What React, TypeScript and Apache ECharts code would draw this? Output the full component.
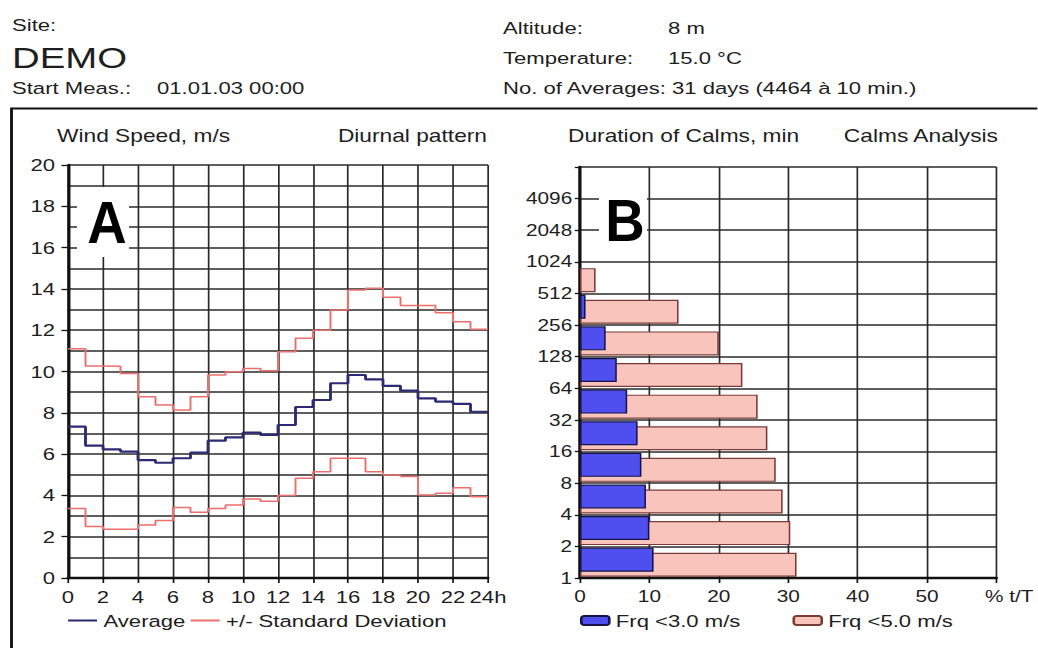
import React, { useEffect, useRef } from 'react';
import * as echarts from 'echarts';

// ---------- data ----------
const hours = [0, 1, 2, 3, 4, 5, 6, 7, 8, 9, 10, 11, 12, 13, 14, 15, 16, 17, 18, 19, 20, 21, 22, 23];
const avgSpeed = [7.33, 6.41, 6.23, 6.12, 5.71, 5.58, 5.8, 6.07, 6.65, 6.81, 7.04, 6.93, 7.41, 8.28, 8.62, 9.43, 9.83, 9.62, 9.3, 9.07, 8.7, 8.54, 8.43, 8.05];
const upperSD = [11.1, 10.27, 10.25, 9.9, 8.78, 8.38, 8.14, 8.78, 9.83, 9.99, 10.15, 10.04, 10.96, 11.61, 12.0, 12.98, 13.95, 14.03, 13.6, 13.2, 13.2, 12.85, 12.41, 12.04];
const lowerSD = [3.37, 2.49, 2.36, 2.36, 2.57, 2.78, 3.42, 3.18, 3.37, 3.53, 3.82, 3.72, 3.99, 4.83, 5.15, 5.8, 5.8, 5.15, 4.99, 4.91, 4.02, 4.1, 4.37, 3.94];

const durationBands = ['1-2', '2-4', '4-8', '8-16', '16-32', '32-64', '64-128', '128-256', '256-512', '512-1024', '1024-2048', '2048-4096', '4096-8192'];
const durationLabels = ['1', '2', '4', '8', '16', '32', '64', '128', '256', '512', '1024', '2048', '4096'];
const calmsBelow3 = [10.6, 10.0, 9.5, 8.85, 8.3, 6.8, 5.3, 3.7, 0.8, 0, 0, 0, 0];
const calmsBelow5 = [31.2, 30.3, 29.2, 28.2, 27.0, 25.6, 23.4, 20.0, 14.2, 2.25, 0, 0, 0];

// ---------- layout ----------
const S = 1.3; // horizontal stretch of the reference
const W = 1038 / S;
const px = (x: number) => x / S;
const FONT = 'Arial, "Liberation Sans", Helvetica, sans-serif';
const TXT = '#1e1e1e';
const GRIDC = '#2a2a2a';

function stepData(vals: number[]) {
  const d: number[][] = hours.map((h, i) => [h, vals[i]]);
  d.push([24, vals[vals.length - 1]]);
  return d;
}

function text(x: number, y: number, t: string, size: number, align = 'left', extra: any = {}) {
  return {
    type: 'text',
    x,
    y,
    z: 100,
    style: { text: t, fontSize: size, fontFamily: FONT, fill: TXT, align, verticalAlign: 'middle', ...extra },
  };
}

export default function App() {
  const ref = useRef<HTMLDivElement>(null);
  useEffect(() => {
    if (!ref.current) return;
    const chart = echarts.init(ref.current, undefined, { renderer: 'svg' });
    const axisLineStyle = { color: '#111', width: 2.4 };
    const option: any = {
      animation: false,
      backgroundColor: '#fff',
      textStyle: { fontFamily: FONT },
      grid: [
        { left: px(68), top: 165, width: px(488) - px(68), height: 413 },
        { left: px(580), top: 167, width: px(998) - px(580), height: 411 },
      ],
      xAxis: [
        {
          type: 'value', gridIndex: 0, min: 0, max: 24, interval: 2,
          axisLine: { show: true, onZero: false, lineStyle: axisLineStyle },
          axisTick: { show: true, length: 5, lineStyle: { color: '#111', width: 1.3 } },
          axisLabel: { fontSize: 17, color: TXT, margin: 10, showMaxLabel: true, showMinLabel: true,
            formatter: (v: number) => (v === 24 ? '24h' : String(v)) },
          splitLine: { show: true, lineStyle: { color: GRIDC, width: 1.3 } },
        },
        {
          type: 'value', gridIndex: 1, min: 0, max: 60, interval: 10,
          axisLine: { show: true, onZero: false, lineStyle: axisLineStyle },
          axisTick: { show: true, length: 5, lineStyle: { color: '#111', width: 1.3 } },
          axisLabel: { fontSize: 16, color: TXT, margin: 10, showMaxLabel: true,
            formatter: (v: number) => (v === 60 ? '{u|% t/T}' : String(v)),
            rich: { u: { fontSize: 16, color: TXT, width: 57, align: 'right' } } },
          splitLine: { show: true, lineStyle: { color: GRIDC, width: 1.3 } },
        },
      ],
      yAxis: [
        {
          type: 'value', gridIndex: 0, min: 0, max: 20, interval: 2, position: 'left',
          axisLine: { show: true, onZero: false, lineStyle: axisLineStyle },
          axisTick: { show: true, length: 5, lineStyle: { color: '#111', width: 1.3 } },
          axisLabel: { fontSize: 17, color: TXT, margin: 10 },
          splitLine: { show: true, lineStyle: { color: GRIDC, width: 1.6 } },
          minorTick: { show: false, splitNumber: 2 },
          minorSplitLine: { show: true, lineStyle: { color: GRIDC, width: 1.6 } },
        },
        {
          type: 'category', gridIndex: 1, data: durationBands, show: false, position: 'left',
        },
        {
          type: 'value', gridIndex: 1, min: 0, max: 13, interval: 1, position: 'left', offset: 0,
          axisLine: { show: true, onZero: false, lineStyle: axisLineStyle },
          axisTick: { show: true, length: 4, lineStyle: { color: '#111', width: 1.3 } },
          axisLabel: { fontSize: 16, color: TXT, margin: 6,
            formatter: (v: number) => durationLabels[v] ?? '' },
          splitLine: { show: true, lineStyle: { color: GRIDC, width: 1.6 } },
        },
      ],
      legend: [
        {
          data: [
            { name: 'Average', icon: 'rect' },
            { name: '+/- Standard Deviation', icon: 'rect' },
          ],
          left: px(68), top: 612, padding: 0,
          itemWidth: px(29), itemHeight: 2, itemGap: 4, selectedMode: false,
          textStyle: { fontSize: 17, color: TXT, fontFamily: FONT },
        },
        {
          data: ['Frq <3.0 m/s', 'Frq <5.0 m/s'], left: px(580), top: 612, padding: 0,
          itemWidth: px(28), itemHeight: 9, itemGap: 40, selectedMode: false,
          textStyle: { fontSize: 17, color: TXT, fontFamily: FONT },
        },
      ],
      series: [
        {
          name: '+/- Standard Deviation', type: 'line', xAxisIndex: 0, yAxisIndex: 0, step: 'end',
          data: stepData(upperSD), symbol: 'none', z: 3,
          lineStyle: { color: '#ec6f6c', width: 1.5 }, itemStyle: { color: '#ec6f6c' },
        },
        {
          name: '+/- Standard Deviation', type: 'line', xAxisIndex: 0, yAxisIndex: 0, step: 'end',
          data: stepData(lowerSD), symbol: 'none', z: 3,
          lineStyle: { color: '#ec6f6c', width: 1.5 }, itemStyle: { color: '#ec6f6c' },
        },
        {
          name: 'Average', type: 'line', xAxisIndex: 0, yAxisIndex: 0, step: 'end',
          data: stepData(avgSpeed), symbol: 'none', z: 4,
          lineStyle: { color: '#2b2b74', width: 2.2 }, itemStyle: { color: '#2b2b74' },
        },
        {
          name: 'Frq <3.0 m/s', type: 'bar', xAxisIndex: 1, yAxisIndex: 1,
          data: calmsBelow3.map((v) => (v === 0 ? '-' : v)),
          barWidth: 24, barGap: '-79%', z: 4,
          itemStyle: { color: '#4f4ff0', borderColor: '#15154a', borderWidth: 1.2 },
        },
        {
          name: 'Frq <5.0 m/s', type: 'bar', xAxisIndex: 1, yAxisIndex: 1,
          data: calmsBelow5.map((v) => (v === 0 ? '-' : v)),
          barWidth: 24, barGap: '-79%', z: 3,
          itemStyle: { color: '#f8c4bc', borderColor: '#7a3a36', borderWidth: 1.2 },
        },
      ],
      graphic: [
        {
          type: 'rect', z: 90, silent: true,
          shape: { x: px(11.5), y: 108.5, width: 2000, height: 2000 },
          style: { fill: 'none', stroke: '#111', lineWidth: 2.2 },
        },
        text(px(12), 25, 'Site:', 17),
        text(px(12), 58, 'DEMO', 29.5),
        text(px(12), 88, 'Start Meas.:', 17),
        text(px(157), 88, '01.01.03 00:00', 17),
        text(px(503), 28, 'Altitude:', 17),
        text(px(668), 28, '8 m', 17),
        text(px(503), 58, 'Temperature:', 17),
        text(px(668), 58, '15.0 °C', 17),
        text(px(503), 88, 'No. of Averages: 31 days (4464 à 10 min.)', 17),
        text(px(57), 136, 'Wind Speed, m/s', 17.5),
        text(px(487), 136, 'Diurnal pattern', 17.5, 'right'),
        text(px(568), 136, 'Duration of Calms, min', 17.5),
        text(px(998), 136, 'Calms Analysis', 17.5, 'right'),
        {
          type: 'rect', z: 95, silent: true,
          shape: { x: px(77), y: 187, width: px(129) - px(77), height: 70 },
          style: { fill: '#fff' },
        },
        {
          type: 'rect', z: 95, silent: true,
          shape: { x: px(599), y: 188, width: px(647) - px(599), height: 64 },
          style: { fill: '#fff' },
        },
        {
          type: 'text', x: px(107), y: 222, z: 100, scaleX: 0.7,
          style: { text: 'A', fontSize: 60, fontWeight: 'bold', fontFamily: FONT, fill: '#000', align: 'center', verticalAlign: 'middle' },
        },
        {
          type: 'text', x: px(625), y: 220, z: 100, scaleX: 0.7,
          style: { text: 'B', fontSize: 60, fontWeight: 'bold', fontFamily: FONT, fill: '#000', align: 'center', verticalAlign: 'middle' },
        },
      ],
    };
    chart.setOption(option);
    return () => chart.dispose();
  }, []);
  return (
    <div
      ref={ref}
      style={{
        position: 'absolute', left: 0, top: 0, width: W, height: 648,
        transform: `scaleX(${S})`, transformOrigin: '0 0', background: '#fff',
      }}
    />
  );
}
